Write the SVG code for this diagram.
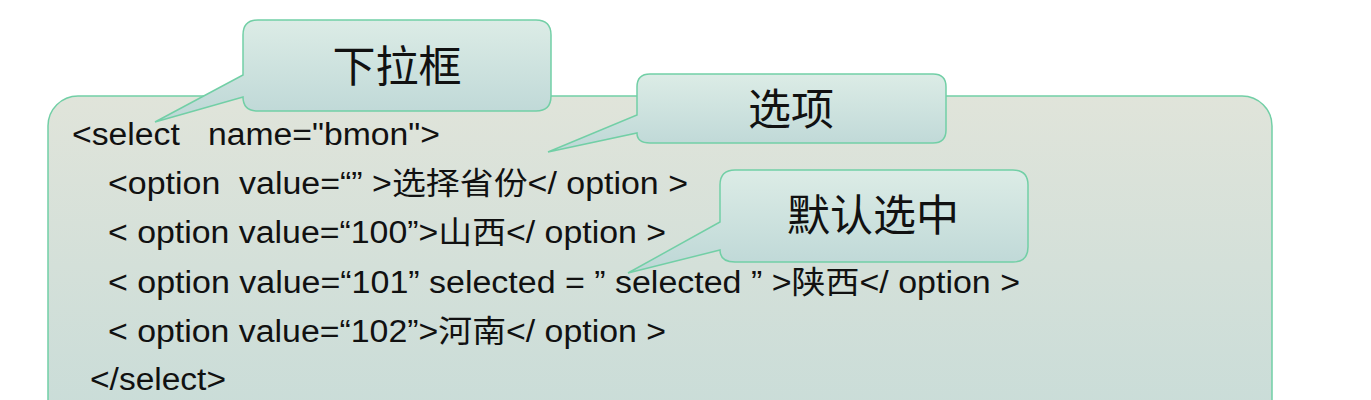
<svg xmlns="http://www.w3.org/2000/svg" width="1371" height="400" viewBox="0 0 1371 400">
<style>
.code{font-family:"Liberation Sans","Noto Sans CJK SC",sans-serif;font-size:31px;fill:#111;white-space:pre}
.lbl{font-family:"Liberation Sans","Noto Sans CJK SC",sans-serif;font-size:43px;fill:#111;text-anchor:middle}
.co{fill:url(#cg);stroke:#72cfa6;stroke-width:1.5}
</style>
<defs>
<linearGradient id="bg" x1="0" y1="0" x2="0" y2="1"><stop offset="0" stop-color="#e0e4da"/><stop offset="1" stop-color="#c8dcd8"/></linearGradient>
<linearGradient id="cg" x1="0" y1="0" x2="0" y2="1"><stop offset="0" stop-color="#dcece6"/><stop offset="1" stop-color="#bdd7d6"/></linearGradient>
</defs>
<rect width="1371" height="400" fill="#fff"/>
<g id="panel"><rect x="48" y="96" width="1224" height="340" rx="30" fill="url(#bg)" stroke="#72cfa6" stroke-width="1.5"/>
<text class="code" xml:space="preserve" x="72" y="145" textLength="368" lengthAdjust="spacingAndGlyphs">&lt;select   name="bmon"&gt;</text>
<text class="code" xml:space="preserve" x="108" y="194" textLength="580" lengthAdjust="spacingAndGlyphs">&lt;option  value=“” &gt;选择省份&lt;/ option &gt;</text>
<text class="code" xml:space="preserve" x="108" y="243" textLength="558" lengthAdjust="spacingAndGlyphs">&lt; option value=“100”&gt;山西&lt;/ option &gt;</text>
<text class="code" xml:space="preserve" x="108" y="293" textLength="912" lengthAdjust="spacingAndGlyphs">&lt; option value=“101” selected = ” selected ” &gt;陕西&lt;/ option &gt;</text>
<text class="code" xml:space="preserve" x="108" y="342" textLength="558" lengthAdjust="spacingAndGlyphs">&lt; option value=“102”&gt;河南&lt;/ option &gt;</text>
<text class="code" xml:space="preserve" x="90" y="390" textLength="136" lengthAdjust="spacingAndGlyphs">&lt;/select&gt;</text>
</g>
<g id="connectors"></g>
<g id="c1"><path class="co" d="M258,20 H536 Q551,20 551,35 V96 Q551,111 536,111 H258 Q243,111 243,97 L155,122 L243,75 V35 Q243,20 258,20 Z"/><text class="lbl" x="397" y="82">下拉框</text></g>
<g id="c2"><path class="co" d="M650,74 H933 Q946,74 946,87 V130 Q946,143 933,143 H650 Q637,143 637,133 L548,152 L637,115 V87 Q637,74 650,74 Z"/><text class="lbl" x="791" y="125">选项</text></g>
<g id="c3"><path class="co" d="M735,170 H1013 Q1028,170 1028,185 V247 Q1028,262 1013,262 H735 Q720,262 720,250 L628,273 L720,222 V185 Q720,170 735,170 Z"/><text class="lbl" x="873" y="231">默认选中</text></g>
</svg>
